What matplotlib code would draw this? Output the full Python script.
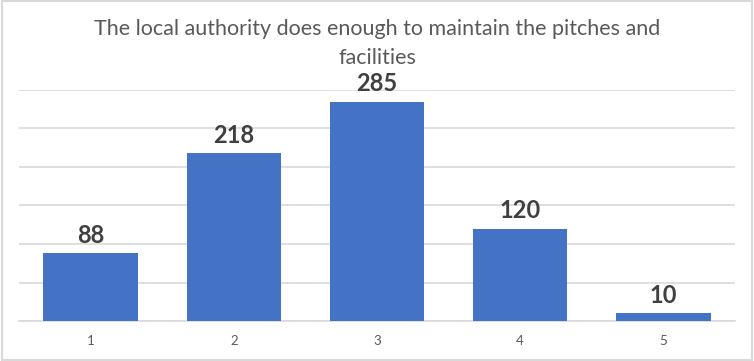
import matplotlib
matplotlib.use("Agg")
import matplotlib.pyplot as plt
from matplotlib.patches import Rectangle

# data
categories = ["1", "2", "3", "4", "5"]
counts = [88, 218, 285, 120, 10]
title = "The local authority does enough to maintain the pitches and\nfacilities"

plt.rcParams['font.family'] = ['Lato', 'DejaVu Sans']

fig = plt.figure(figsize=(7.54, 3.61), dpi=100)
ax = fig.add_axes([0.0252, 0.1108, 0.9496, 0.6399])

x = range(len(categories))
bars = ax.bar(x, counts, width=0.66, color="#4472C4", zorder=3)
for b, v in zip(bars, counts):
    ax.text(b.get_x() + b.get_width() / 2, v + 8, str(v), ha="center", va="bottom",
            fontsize=17, fontweight="bold", color="#404040")

ax.set_xlim(-0.5, len(categories) - 0.5)
ax.set_ylim(0, 300)
ax.set_yticks(range(0, 301, 50))
ax.yaxis.grid(True, color="#D9D9D9", linewidth=1.2, zorder=0)
ax.tick_params(axis="y", left=False, labelleft=False)
ax.set_xticks(list(x))
ax.set_xticklabels(categories, fontsize=9.5, color="#595959")
ax.tick_params(axis="x", length=0, pad=10)
for side in ["top", "right", "left"]:
    ax.spines[side].set_visible(False)
ax.spines["bottom"].set_color("#D9D9D9")
ax.spines["bottom"].set_linewidth(1.2)

fig.text(0.5, 0.88, title, ha="center", va="center", fontsize=15.5, color="#595959",
         linespacing=1.6)

# thin grey frame around the chart area
fig.patches.append(Rectangle((0.002, 0.003), 0.996, 0.994, transform=fig.transFigure,
                             fill=False, edgecolor="#D9D9D9", linewidth=1.5))

fig.savefig("out.png", dpi=100)
